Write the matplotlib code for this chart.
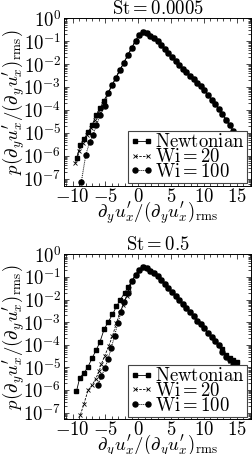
#!/usr/bin/env python3
# -*- coding: utf-8 -*-

"""
PDF de du_x/dy normalizado (Newtoniano vs. viscoelastico) para dois Stokes.
Gera out.png.
"""

import numpy as np
import matplotlib
matplotlib.use("Agg")
import matplotlib.pyplot as plt
from matplotlib.ticker import FixedLocator, LogLocator, MultipleLocator, FuncFormatter, NullFormatter

# ---- dados (x normalizado, log10 da pdf) ----
TITLES = [r"$\mathrm{St} = 0.0005$", r"$\mathrm{St} = 0.5$"]
SERIES = [r"$\mathrm{Newtonian}$", r"$\mathrm{Wi} = 20$", r"$\mathrm{Wi} = 100$"]

# parte comum (as tres curvas se sobrepoem)
TOP_CORE_X = [-4.6, -4.0, -3.4, -2.8, -2.2, -1.6, -1.0, -0.4, 0.15, 0.76, 1.3, 1.85,
              2.4, 2.95, 3.5, 4.05, 4.6, 5.15, 5.7, 6.25, 6.8, 7.35, 7.9, 8.45, 9.0,
              9.55, 10.1, 10.65, 11.2, 11.75, 12.3, 12.85, 13.4, 13.95, 14.5]
TOP_CORE_LOGP = [-3.27, -2.93, -2.6, -2.27, -1.95, -1.62, -1.3, -0.98, -0.72, -0.58,
                 -0.65, -0.76, -0.87, -0.98, -1.15, -1.33, -1.51, -1.69, -1.87, -2.05,
                 -2.2, -2.36, -2.51, -2.66, -2.81, -2.96, -3.15, -3.35, -3.55, -3.75,
                 -3.95, -4.18, -4.43, -4.68, -4.9]

TOP_NEWT_LEFT_X = [-9.36, -8.82, -8.24, -7.63, -7.02, -6.41, -5.8, -5.24]
TOP_NEWT_LEFT_LOGP = [-6.08, -5.55, -5.27, -4.97, -4.66, -4.24, -3.92, -3.6]
TOP_NEWT_TAIL_X = [15.05]
TOP_NEWT_TAIL_LOGP = [-5.1]

TOP_WI20_LEFT_X = [-9.56, -8.95, -8.35, -7.75, -7.15, -6.55, -5.95, -5.3]
TOP_WI20_LEFT_LOGP = [-6.32, -5.8, -5.45, -5.1, -4.78, -4.45, -4.12, -3.75]
TOP_WI20_TAIL_X = [15.05]
TOP_WI20_TAIL_LOGP = [-5.1]

TOP_WI100_LEFT_X = [-8.66, -7.98, -7.37, -6.87, -6.35, -5.74, -5.08]
TOP_WI100_LEFT_LOGP = [-7.14, -5.96, -5.38, -5.09, -4.65, -4.21, -3.85]
TOP_WI100_TAIL_X = [15.05, 15.5]
TOP_WI100_TAIL_LOGP = [-5.1, -5.28]

BOT_CORE_X = [-1.0, -0.4, 0.15, 0.76, 1.3, 1.85, 2.4, 2.95, 3.5, 4.05, 4.6, 5.15,
              5.7, 6.25, 6.8, 7.35, 7.9, 8.45, 9.0, 9.55, 10.1, 10.65, 11.2, 11.75, 12.3]
BOT_CORE_LOGP = [-1.2, -0.92, -0.68, -0.55, -0.62, -0.72, -0.84, -0.97, -1.13, -1.3,
                 -1.48, -1.66, -1.84, -2.02, -2.2, -2.38, -2.56, -2.75, -2.93, -3.1,
                 -3.28, -3.46, -3.66, -3.85, -4.0]

BOT_NEWT_LEFT_X = [-9.4, -8.9, -8.24, -7.63, -7.02, -6.41, -5.85, -5.19, -4.58, -3.91,
                   -3.3, -2.69, -2.03, -1.5]
BOT_NEWT_LEFT_LOGP = [-6.06, -5.46, -5.25, -4.97, -4.59, -4.24, -3.9, -3.32, -3.0, -2.66,
                      -2.3, -2.0, -1.69, -1.44]
BOT_NEWT_TAIL_X = [12.85, 13.4, 13.95, 14.5, 15.05]
BOT_NEWT_TAIL_LOGP = [-4.2, -4.45, -4.6, -4.68, -4.75]

BOT_WI20_LEFT_X = [-8.8, -8.29, -7.63, -7.02, -6.46, -5.95, -5.6, -5.08, -4.47, -3.91,
                   -3.3, -2.79, -2.29, -1.77, -1.4]
BOT_WI20_LEFT_LOGP = [-7.1, -6.64, -6.01, -5.79, -5.5, -5.18, -4.85, -4.48, -4.05, -3.61,
                      -3.03, -2.59, -2.23, -1.86, -1.55]
BOT_WI20_TAIL_X = [12.85, 13.4, 13.95, 14.5, 15.05]
BOT_WI20_TAIL_LOGP = [-4.25, -4.5, -4.7, -4.9, -5.18]

BOT_WI100_LEFT_X = [-6.15, -5.6, -5.1, -4.6, -4.1, -3.6, -3.1, -2.6, -2.1, -1.6]
BOT_WI100_LEFT_LOGP = [-5.8, -5.4, -5.05, -4.65, -4.15, -3.6, -3.05, -2.55, -2.1, -1.7]
BOT_WI100_TAIL_X = [12.85, 13.4, 13.95, 14.5, 15.05]
BOT_WI100_TAIL_LOGP = [-4.3, -4.55, -4.68, -4.9, -5.0]

X_LIM = (-11.3, 17.2)
Y_LIM = (10 ** -7.3, 1.0)
X_TICKS = [-10, -5, 0, 5, 10, 15]
Y_TICKS = [1e0, 1e-1, 1e-2, 1e-3, 1e-4, 1e-5, 1e-6, 1e-7]

XLABEL = r"$\partial_y u_x'/(\partial_y u_x')_{\mathrm{rms}}$"
YLABEL = r"$p(\partial_y u_x'/(\partial_y u_x')_{\mathrm{rms}})$"

FS = 13.5

plt.rcParams["mathtext.fontset"] = "cm"
plt.rcParams["font.family"] = "serif"
plt.rcParams["font.serif"] = ["DejaVu Serif"]
plt.rcParams["axes.linewidth"] = 0.7


def build(left_x, left_lp, core_x, core_lp, tail_x, tail_lp):
    x = np.array(left_x + core_x + tail_x)
    p = 10.0 ** np.array(left_lp + core_lp + tail_lp)
    return x, p


panels = [
    [
        build(TOP_NEWT_LEFT_X, TOP_NEWT_LEFT_LOGP, TOP_CORE_X, TOP_CORE_LOGP, TOP_NEWT_TAIL_X, TOP_NEWT_TAIL_LOGP),
        build(TOP_WI20_LEFT_X, TOP_WI20_LEFT_LOGP, TOP_CORE_X, TOP_CORE_LOGP, TOP_WI20_TAIL_X, TOP_WI20_TAIL_LOGP),
        build(TOP_WI100_LEFT_X, TOP_WI100_LEFT_LOGP, TOP_CORE_X, TOP_CORE_LOGP, TOP_WI100_TAIL_X, TOP_WI100_TAIL_LOGP),
    ],
    [
        build(BOT_NEWT_LEFT_X, BOT_NEWT_LEFT_LOGP, BOT_CORE_X, BOT_CORE_LOGP, BOT_NEWT_TAIL_X, BOT_NEWT_TAIL_LOGP),
        build(BOT_WI20_LEFT_X, BOT_WI20_LEFT_LOGP, BOT_CORE_X, BOT_CORE_LOGP, BOT_WI20_TAIL_X, BOT_WI20_TAIL_LOGP),
        build(BOT_WI100_LEFT_X, BOT_WI100_LEFT_LOGP, BOT_CORE_X, BOT_CORE_LOGP, BOT_WI100_TAIL_X, BOT_WI100_TAIL_LOGP),
    ],
]

styles = [
    dict(marker="s", ms=3.0, ls="-", lw=0.6),
    dict(marker="x", ms=3.0, mew=0.6, ls=(0, (3, 1.5)), lw=0.6),
    dict(marker="o", ms=3.6, ls=(0, (1, 1)), lw=0.7),
]

fig = plt.figure(figsize=(2.52, 4.54), dpi=100)
rects = [[0.254, 0.5914, 0.742, 0.3683], [0.254, 0.0764, 0.742, 0.3634]]

for rect, title, curves in zip(rects, TITLES, panels):
    ax = fig.add_axes(rect)
    for (x, p), name, st in zip(curves, SERIES, styles):
        ax.plot(x, p, color="black", mfc="black", mec="black", label=name,
                clip_on=False, **st)
    ax.set_yscale("log")
    ax.set_xlim(*X_LIM)
    ax.set_ylim(*Y_LIM)
    ax.xaxis.set_major_locator(FixedLocator(X_TICKS))
    ax.xaxis.set_minor_locator(MultipleLocator(1))
    ax.xaxis.set_major_formatter(FuncFormatter(lambda v, pos: r"$%d$" % v))
    ax.yaxis.set_major_locator(FixedLocator(Y_TICKS))
    ax.yaxis.set_minor_locator(LogLocator(base=10, subs=np.arange(2, 10), numticks=20))
    ax.yaxis.set_minor_formatter(NullFormatter())
    ax.yaxis.set_major_formatter(FuncFormatter(lambda v, pos: r"$10^{%d}$" % round(np.log10(v))))
    ax.tick_params(which="both", direction="in", top=True, right=True, labelsize=FS, width=0.5)
    ax.tick_params(which="major", length=3.5)
    ax.tick_params(axis="x", which="major", pad=1.5)
    ax.tick_params(axis="y", which="major", pad=2)
    ax.tick_params(which="minor", length=2)
    ax.set_title(title, fontsize=FS, pad=3)
    ax.set_xlabel(XLABEL, fontsize=FS)
    ax.set_ylabel(YLABEL, fontsize=FS)
    ax.xaxis.set_label_coords(0.5, -0.082)
    ax.yaxis.set_label_coords(-0.2, 0.5)
    leg = ax.legend(loc="lower right", bbox_to_anchor=(0.979, 0.015), fontsize=FS,
                    numpoints=2, handlelength=1.25, handletextpad=0.1, labelspacing=-0.18,
                    borderpad=0.12, borderaxespad=0.0, fancybox=False, framealpha=1,
                    edgecolor="#444444")
    leg.get_frame().set_linewidth(0.8)

fig.savefig("out.png", dpi=100)
